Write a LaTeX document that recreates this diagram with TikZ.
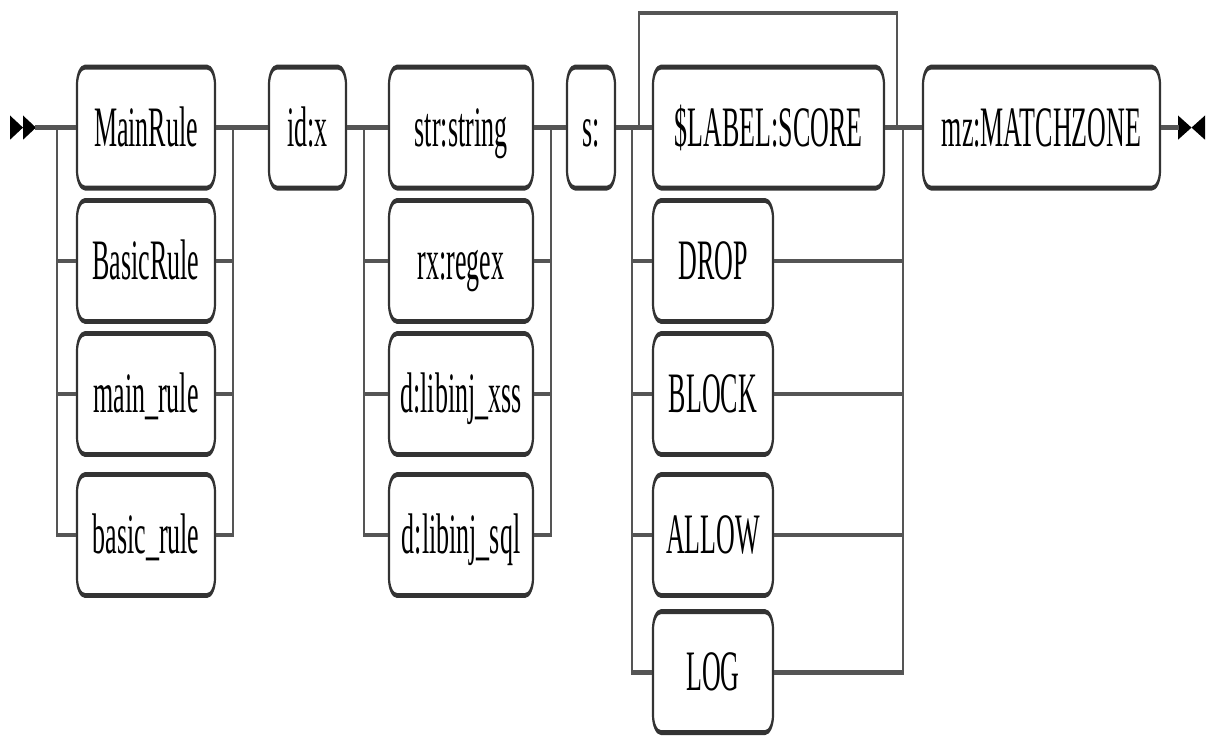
\documentclass[tikz,border=0pt]{standalone}
\usepackage{fontspec}
\setmainfont{Liberation Serif}
\definecolor{boxc}{HTML}{333333}
\definecolor{wirec}{HTML}{555555}
\begin{document}
\begin{tikzpicture}[x=1pt,y=-1pt,
  rrbox/.style={draw=boxc, line width=2.2pt, rounded corners=8pt, fill=white,
    inner sep=0pt, minimum height=55pt, text height=18pt, text depth=1pt,
    font=\fontsize{26}{30}\selectfont},
  wire/.style={draw=wirec, line width=2.2pt},
  marker/.style={fill=black, draw=none}]
\path[use as bounding box, fill=white] (0,0) rectangle (1214,746);
\def\ra{58}
\def\rb{118.6}
\def\rc{179.1}
\def\rd{243.2}
\def\re{305.5}
\def\sk{5.9}
\begin{scope}[transform canvas={yscale=2.2}]
  % markers
  \fill[marker] (10,\ra-5.5) -- (23,\ra) -- (10,\ra+5.5) -- cycle;
  \fill[marker] (23,\ra-5.5) -- (36,\ra) -- (23,\ra+5.5) -- cycle;
  \fill[marker] (1178,\ra-5.5) -- (1191.5,\ra) -- (1178,\ra+5.5) -- cycle;
  \fill[marker] (1205,\ra-5.5) -- (1191.5,\ra) -- (1205,\ra+5.5) -- cycle;
  \coordinate (start) at (35,\ra);
  \coordinate (end) at (1179,\ra);
  % group 1
  \node[rrbox, minimum width=138pt] (n1) at (146,\ra) {MainRule};
  \node[rrbox, minimum width=138pt] (n2) at (146,\rb) {BasicRule};
  \node[rrbox, minimum width=138pt] (n3) at (146,\rc) {main\_rule};
  \node[rrbox, minimum width=138pt] (n4) at (146,\rd) {basic\_rule};
  \coordinate (g1l) at (57,\ra);
  \coordinate (g1r) at (233,\ra);
  % id
  \node[rrbox, minimum width=77pt] (idx) at (307.5,\ra) {id:x};
  % group 2
  \node[rrbox, minimum width=144pt] (m1) at (461,\ra) {str:string};
  \node[rrbox, minimum width=144pt] (m2) at (461,\rb) {rx:regex};
  \node[rrbox, minimum width=144pt] (m3) at (461,\rc) {d:libinj\_xss};
  \node[rrbox, minimum width=144pt] (m4) at (461,\rd) {d:libinj\_sql};
  \coordinate (g2l) at (364,\ra);
  \coordinate (g2r) at (551,\ra);
  % s:
  \node[rrbox, minimum width=48pt] (s) at (591,\ra) {s:};
  % group 3
  \node[rrbox, minimum width=231pt] (a1) at (768.5,\ra) {\$LABEL:SCORE};
  \node[rrbox, minimum width=120pt] (a2) at (713,\rb) {DROP};
  \node[rrbox, minimum width=120pt] (a3) at (713,\rc) {BLOCK};
  \node[rrbox, minimum width=120pt] (a4) at (713,\rd) {ALLOW};
  \node[rrbox, minimum width=120pt] (a5) at (713,\re) {LOG};
  \coordinate (g3l) at (632,\ra);
  \coordinate (g3r) at (903,\ra);
  \coordinate (skl) at (639,\ra);
  \coordinate (skr) at (897,\ra);
  \coordinate (sktop) at (768,\sk);
  % mz
  \node[rrbox, minimum width=237pt] (mz) at (1041.5,\ra) {mz:MATCHZONE};

  % wires
  \path[wire] (start) -- (n1.west);
  \path[wire] (g1l) |- (n2.west);
  \path[wire] (g1l) |- (n3.west);
  \path[wire] (g1l) |- (n4.west);
  \path[wire] (n1.east) -- (idx.west);
  \path[wire] (n2.east) -| (g1r);
  \path[wire] (n3.east) -| (g1r);
  \path[wire] (n4.east) -| (g1r);
  \path[wire] (idx.east) -- (m1.west);
  \path[wire] (g2l) |- (m2.west);
  \path[wire] (g2l) |- (m3.west);
  \path[wire] (g2l) |- (m4.west);
  \path[wire] (m1.east) -- (s.west);
  \path[wire] (m2.east) -| (g2r);
  \path[wire] (m3.east) -| (g2r);
  \path[wire] (m4.east) -| (g2r);
  \path[wire] (s.east) -- (a1.west);
  \path[wire] (g3l) |- (a2.west);
  \path[wire] (g3l) |- (a3.west);
  \path[wire] (g3l) |- (a4.west);
  \path[wire] (g3l) |- (a5.west);
  \path[wire] (a1.east) -- (mz.west);
  \path[wire] (a2.east) -| (g3r);
  \path[wire] (a3.east) -| (g3r);
  \path[wire] (a4.east) -| (g3r);
  \path[wire] (a5.east) -| (g3r);
  \path[wire] (skl) |- (sktop) -| (skr);
  \path[wire] (mz.east) -- (end);
\end{scope}
\end{tikzpicture}
\end{document}
